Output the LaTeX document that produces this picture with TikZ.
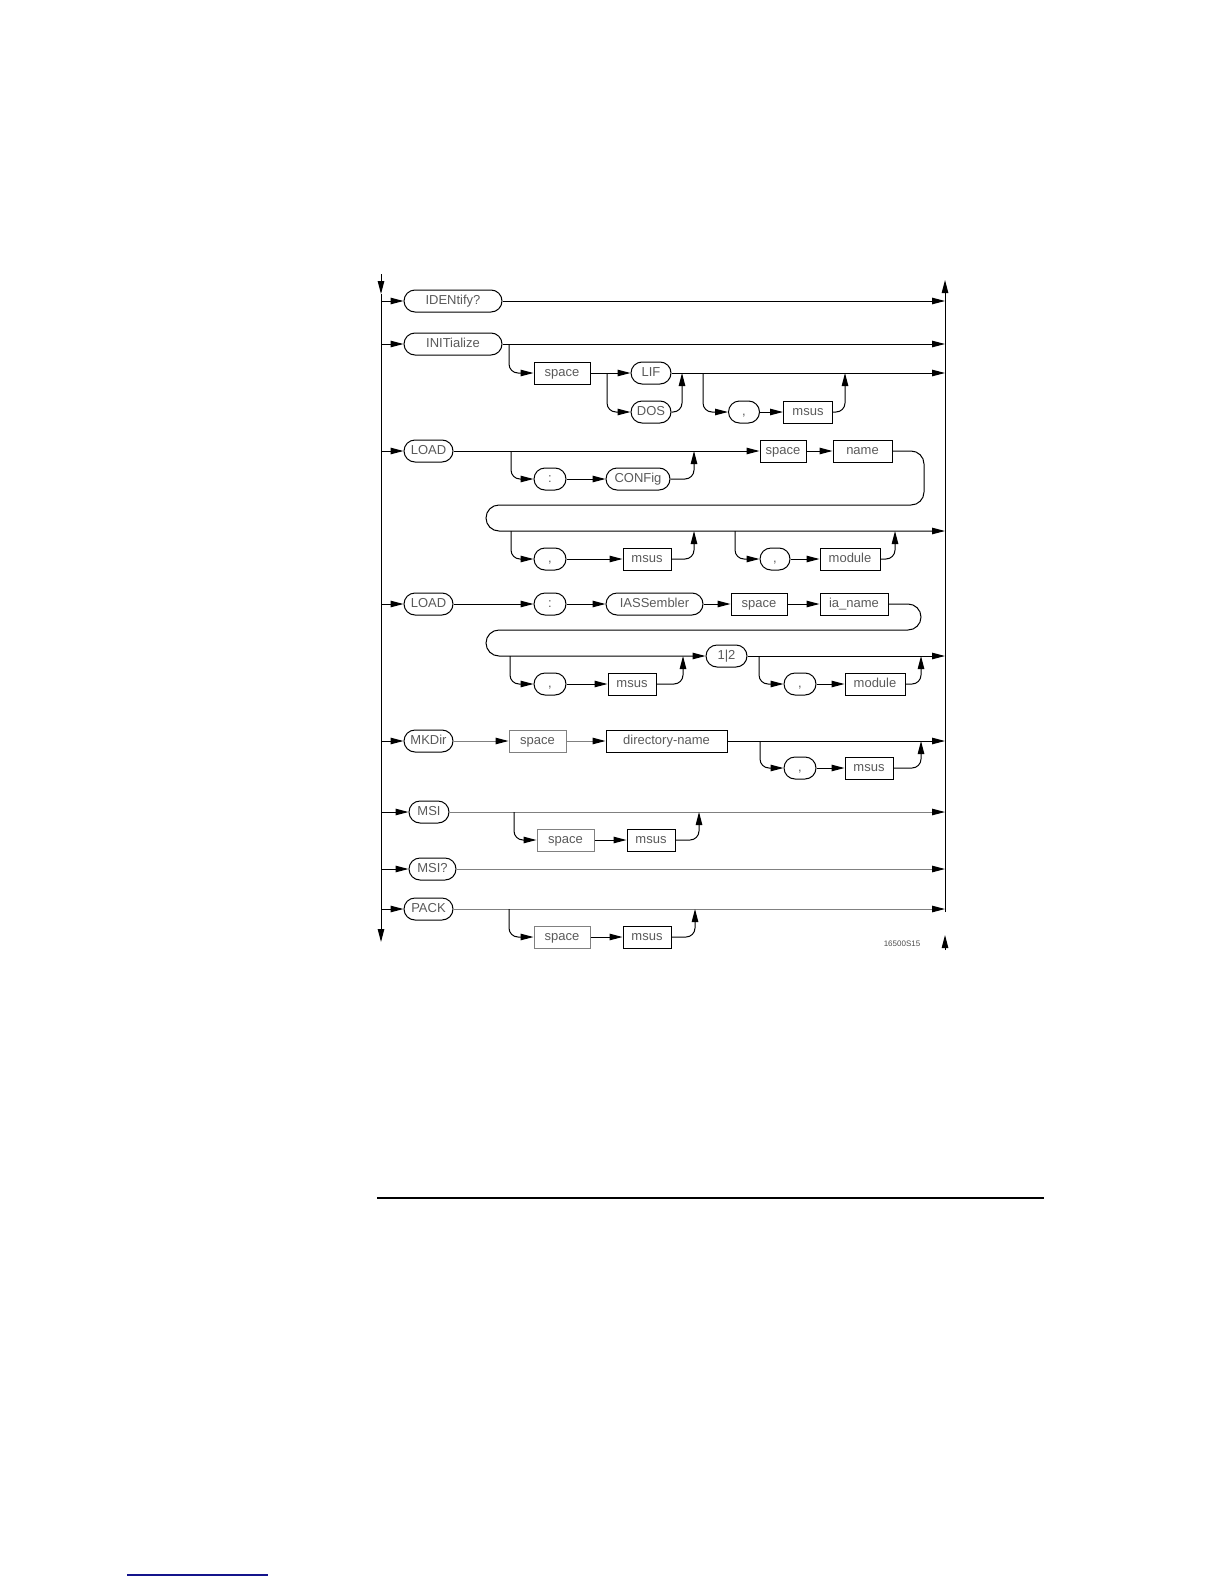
\documentclass[tikz,border=0pt]{standalone}
\usepackage{fontspec}
\newfontfamily\synfont{Liberation Sans}
\newcommand{\synsize}{\synfont\fontsize{13}{15}\selectfont}
\usetikzlibrary{arrows.meta}
\definecolor{linkblue}{RGB}{20,20,140}

\begin{document}
\begin{tikzpicture}[x=1pt, y=-1pt, line width=1pt,
        flow/.style={-{Triangle[length=13pt,width=6.5pt,color=black]}},
        corner/.style={rounded corners=9pt},
        kw/.style={draw, rounded corners=11pt, minimum height=22pt, inner sep=0pt, text height=8.5pt, text depth=1.5pt, text=black!65, font=\synsize},
        parm/.style={draw, minimum height=22pt, inner sep=0pt, text height=8.5pt, text depth=1.5pt, text=black!65, font=\synsize},
        faint/.style={draw=black!50}]
    \useasboundingbox (0,0) rectangle (1224,1584);

    % rails
    \coordinate (ltop) at (381,274);
    \coordinate (ltip) at (381,294);
    \coordinate (lbot) at (381,942);
    \coordinate (rtop) at (945,280);
    \coordinate (rend) at (945,912);
    \coordinate (rlow) at (945,950);
    \coordinate (rlowtip) at (945,935);
    \draw[flow] (ltop) -- (ltip);
    \draw[flow] (ltip) -- (lbot);
    \draw[flow] (rend) -- (rtop);
    \draw[flow] (rlow) -- (rlowtip);

    % IDENtify?
    \node[kw, minimum width=98pt] (idn) at (453,301) {IDENtify?};
    \draw[flow] (ltop |- idn) -- (idn);
    \draw[flow] (idn) -- (idn -| rtop);

    % INITialize
    \node[kw, minimum width=98pt] (init) at (453,344) {INITialize};
    \node[parm, minimum width=56pt] (sp1) at (562,373) {space};
    \node[kw, minimum width=40pt] (lif) at (651,373) {LIF};
    \node[kw, minimum width=40pt] (dos) at (651,412) {DOS};
    \node[kw, minimum width=31pt] (com1) at (744,412) {,};
    \node[parm, minimum width=49pt] (msus1) at (808,412) {msus};
    \coordinate (i1) at (509,344);
    \coordinate (s1) at (607,373);
    \coordinate (m1) at (682,373);
    \coordinate (b2) at (703,373);
    \coordinate (m2) at (845,373);
    \draw[flow] (ltop |- init) -- (init);
    \draw[flow] (init) -- (init -| rtop);
    \draw[flow, corner] (i1) |- (sp1);
    \draw (sp1) -- (s1);
    \draw[flow] (s1) -- (lif);
    \draw[flow, corner] (s1) |- (dos);
    \draw[flow] (lif) -- (lif -| rtop);
    \draw[flow, corner] (dos) -| (m1);
    \draw[flow, corner] (b2) |- (com1);
    \draw[flow] (com1) -- (msus1);
    \draw[flow, corner] (msus1) -| (m2);

    % LOAD config
    \node[kw, minimum width=49pt] (load1) at (428.5,451) {LOAD};
    \node[kw, minimum width=32pt] (col1) at (550,479) {:};
    \node[kw, minimum width=64pt] (cfg) at (638,479) {CONFig};
    \node[parm, minimum width=46pt] (sp2) at (783,451) {space};
    \node[parm, minimum width=59pt] (name) at (862.5,451) {name};
    \node[kw, minimum width=32pt] (com2) at (550,559) {,};
    \node[parm, minimum width=48pt] (msus2) at (647,559) {msus};
    \node[kw, minimum width=30pt] (com3) at (775,559) {,};
    \node[parm, minimum width=60pt] (mod1) at (850,559) {module};
    \coordinate (b3) at (511,451);
    \coordinate (m3) at (694,451);
    \coordinate (w1a) at (924,451);
    \coordinate (w1b) at (924,505);
    \coordinate (w1c) at (486,505);
    \coordinate (w1d) at (486,531);
    \coordinate (b4) at (511,531);
    \coordinate (m4) at (694,531);
    \coordinate (b5) at (735,531);
    \coordinate (m5) at (895,531);
    \draw[flow] (ltop |- load1) -- (load1);
    \draw[flow] (load1) -- (sp2);
    \draw[flow] (sp2) -- (name);
    \draw[flow, rounded corners=13pt] (name) -- (w1a) -- (w1b) -- (w1c) -- (w1d) -- (w1d -| rtop);
    \draw[flow, corner] (b3) |- (col1);
    \draw[flow] (col1) -- (cfg);
    \draw[flow, corner] (cfg) -| (m3);
    \draw[flow, corner] (b4) |- (com2);
    \draw[flow] (com2) -- (msus2);
    \draw[flow, corner] (msus2) -| (m4);
    \draw[flow, corner] (b5) |- (com3);
    \draw[flow] (com3) -- (mod1);
    \draw[flow, corner] (mod1) -| (m5);

    % LOAD assembler
    \node[kw, minimum width=49pt] (load2) at (428.5,604) {LOAD};
    \node[kw, minimum width=32pt] (col2) at (550,604) {:};
    \node[kw, minimum width=97pt] (iasm) at (654.5,604) {IASSembler};
    \node[parm, minimum width=56pt] (sp3) at (759,604) {space};
    \node[parm, minimum width=68pt] (ianame) at (854,604) {ia\_name};
    \node[kw, minimum width=32pt] (com4) at (550,684) {,};
    \node[parm, minimum width=48pt] (msus3) at (632,684) {msus};
    \node[kw, minimum width=41pt] (onetwo) at (726.5,656) {1|2};
    \node[kw, minimum width=32pt] (com5) at (800,684) {,};
    \node[parm, minimum width=60pt] (mod2) at (875,684) {module};
    \coordinate (w2a) at (921,604);
    \coordinate (w2b) at (921,630);
    \coordinate (w2c) at (486,630);
    \coordinate (w2d) at (486,656);
    \coordinate (b6) at (510,656);
    \coordinate (m6) at (683,656);
    \coordinate (b7) at (759,656);
    \coordinate (m7) at (921,656);
    \draw[flow] (ltop |- load2) -- (load2);
    \draw[flow] (load2) -- (col2);
    \draw[flow] (col2) -- (iasm);
    \draw[flow] (iasm) -- (sp3);
    \draw[flow] (sp3) -- (ianame);
    \draw[flow, rounded corners=13pt] (ianame) -- (w2a) -- (w2b) -- (w2c) -- (w2d) -- (onetwo);
    \draw[flow] (onetwo) -- (onetwo -| rtop);
    \draw[flow, corner] (b6) |- (com4);
    \draw[flow] (com4) -- (msus3);
    \draw[flow, corner] (msus3) -| (m6);
    \draw[flow, corner] (b7) |- (com5);
    \draw[flow] (com5) -- (mod2);
    \draw[flow, corner] (mod2) -| (m7);

    % MKDir
    \node[kw, minimum width=49pt] (mkdir) at (428.5,741) {MKDir};
    \node[parm, faint, minimum width=57pt] (sp4) at (537.5,741) {space};
    \node[parm, minimum width=121pt] (dirname) at (666.5,741) {directory-name};
    \node[kw, minimum width=32pt] (com6) at (800,768) {,};
    \node[parm, minimum width=48pt] (msus4) at (869,768) {msus};
    \coordinate (b8) at (760,741);
    \coordinate (m8) at (921,741);
    \draw[flow] (ltop |- mkdir) -- (mkdir);
    \draw[flow, faint] (mkdir) -- (sp4);
    \draw[flow, faint] (sp4) -- (dirname);
    \draw[flow] (dirname) -- (dirname -| rtop);
    \draw[flow, corner] (b8) |- (com6);
    \draw[flow] (com6) -- (msus4);
    \draw[flow, corner] (msus4) -| (m8);

    % MSI
    \node[kw, minimum width=40pt] (msi) at (429,812) {MSI};
    \node[parm, faint, minimum width=57pt] (sp5) at (565.5,840) {space};
    \node[parm, minimum width=48pt] (msus5) at (651,840) {msus};
    \coordinate (b9) at (514,812);
    \coordinate (m9) at (699,812);
    \draw[flow] (ltop |- msi) -- (msi);
    \draw[flow, faint] (msi) -- (msi -| rtop);
    \draw[flow, corner] (b9) |- (sp5);
    \draw[flow] (sp5) -- (msus5);
    \draw[flow, corner] (msus5) -| (m9);

    % MSI?
    \node[kw, minimum width=47pt] (msiq) at (432.5,869) {MSI?};
    \draw[flow] (ltop |- msiq) -- (msiq);
    \draw[flow, faint] (msiq) -- (msiq -| rtop);

    % PACK
    \node[kw, minimum width=49pt] (pack) at (428.5,909) {PACK};
    \node[parm, faint, minimum width=56pt] (sp6) at (562,937) {space};
    \node[parm, minimum width=48pt] (msus6) at (647,937) {msus};
    \coordinate (b10) at (509,909);
    \coordinate (m10) at (695,909);
    \draw[flow] (ltop |- pack) -- (pack);
    \draw[flow, faint] (pack) -- (pack -| rtop);
    \draw[flow, corner] (b10) |- (sp6);
    \draw[flow] (sp6) -- (msus6);
    \draw[flow, corner] (msus6) -| (m10);

    \node[font=\synfont\fontsize{8}{9}\selectfont, text=black!70] (fig) at (902,944) {16500S15};

    % page rules
    \coordinate (ruleL) at (377,1198);
    \coordinate (ruleR) at (1044,1198);
    \draw[line width=1.5pt] (ruleL) -- (ruleR);
    \coordinate (linkL) at (127,1575);
    \coordinate (linkR) at (268,1575);
    \draw[linkblue, line width=1.5pt] (linkL) -- (linkR);
\end{tikzpicture}
\end{document}
